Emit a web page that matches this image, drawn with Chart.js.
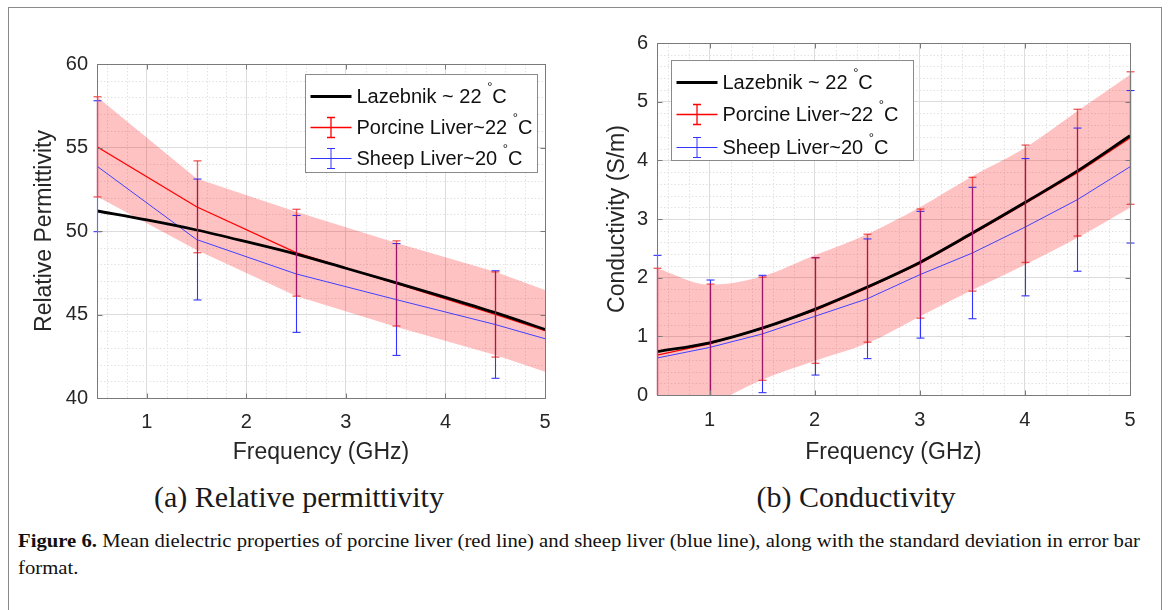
<!DOCTYPE html>
<html>
<head>
<meta charset="utf-8">
<script src="https://cdn.jsdelivr.net/npm/chart.js@4.4.1/dist/chart.umd.min.js"></script>
<style>
  html, body { margin: 0; padding: 0; background: #fff; }
  body { width: 1171px; height: 610px; position: relative; overflow: hidden; }
  #frame { position: absolute; left: 8px; top: 7px; width: 1154px; height: 640px;
           border: 1px solid #8a8a8a; box-sizing: border-box; }
  canvas { position: absolute; top: 0; }
  .sub { position: absolute; top: 479px; font-family: "Liberation Serif", serif; font-size: 30px;
         color: #1a1a1a; white-space: nowrap; transform: translateX(-50%); line-height: 36px; }
  .cap { position: absolute; left: 18px; font-family: "Liberation Serif", serif; font-size: 18px;
         color: #111; white-space: nowrap; transform-origin: 0 50%; line-height: 22px; }
</style>
</head>
<body>
<div id="frame"></div>
<canvas id="permChart" width="580" height="470" style="left:0"></canvas>
<canvas id="condChart" width="591" height="470" style="left:580px"></canvas>
<div class="sub" style="left:299px">(a) Relative permittivity</div>
<div class="sub" style="left:856px">(b) Conductivity</div>
<div class="cap" id="cap1" style="top:530px"><b>Figure 6.</b> Mean dielectric properties of porcine liver (red line) and sheep liver (blue line), along with the standard deviation in error bar</div>
<div class="cap" id="cap2" style="top:557px">format.</div>

<script>
// ---- data ----
const xTicks = [1, 2, 3, 4, 5];
const legendLabels = ['Lazebnik ~ 22 ', 'Porcine Liver~22 ', 'Sheep Liver~20 '];

// (a) relative permittivity
const permFreq = [0.5, 1.5, 2.5, 3.5, 4.5, 5];
const permLazFreq = [0.5, 1, 1.5, 2, 2.5, 3, 3.5, 4, 4.5, 5];
const permLazebnik = [51.2, 50.66, 50.06, 49.36, 48.62, 47.77, 46.91, 46.03, 45.11, 44.11];
const permPorcine = [55.04, 51.45, 48.7, 46.86, 45.0, 44.03];
const permPorcineSd = [3.0, 2.75, 2.6, 2.55, 2.55, null];
const permSheep = [53.88, 49.49, 47.43, 45.9, 44.4, 43.55];
const permSheepSd = [3.92, 3.62, 3.5, 3.35, 3.22, null];
const permBandHi = [58.04, 53.15, 51.16, 49.3, 47.56, 46.47];
const permBandLo = [52.06, 48.86, 46.11, 44.27, 42.57, 41.57];
const permYTicks = [40, 45, 50, 55, 60];

// (b) conductivity
const condFreq = [0.5, 1, 1.5, 2, 2.5, 3, 3.5, 4, 4.5, 5];
const condLazebnik = [0.74, 0.89, 1.14, 1.46, 1.84, 2.26, 2.76, 3.28, 3.82, 4.42];
const condPorcine = [0.68, 0.87, 1.13, 1.44, 1.82, 2.24, 2.74, 3.26, 3.79, 4.38];
const condPorcineSd = [1.48, 1.02, 0.88, 0.9, 0.92, 0.93, 0.97, 1.0, 1.08, 1.13];
const condSheep = [0.63, 0.81, 1.04, 1.34, 1.64, 2.05, 2.42, 2.86, 3.33, 3.89];
const condSheepSd = [1.75, 1.15, 1.0, 1.0, 1.02, 1.08, 1.12, 1.17, 1.22, 1.3];
const condBandHi = [2.16, 1.88, 2.02, 2.38, 2.74, 3.2, 3.73, 4.21, 4.84, 5.46];
const condBandLo = [-0.8, -0.2, 0.26, 0.58, 0.88, 1.34, 1.79, 2.22, 2.68, 3.19];
const condYTicks = [0, 1, 2, 3, 4, 5, 6];

const pts = (xs, ys) => xs.map((x, i) => ({ x, y: ys[i] }));
const FONT = 'Liberation Sans';
const TEXT = '#262626';

// minor grid, error bars, axes box with inward ticks, legend (MATLAB look)
const matlabPlugin = {
    id: 'matlab',
    beforeDatasetsDraw(chart, args, o) {
        const { ctx, chartArea: a, scales: { x, y } } = chart;
        ctx.save();
        ctx.strokeStyle = '#e2e2e2';
        ctx.lineWidth = 1;
        ctx.setLineDash([1.5, 2]);
        const minor = (scale, step, vertical) => {
            const n0 = Math.ceil(scale.min / step - 1e-9);
            const n1 = Math.floor(scale.max / step + 1e-9);
            for (let n = n0; n <= n1; n++) {
                const v = n * step;
                if (scale.ticks.some(t => Math.abs(t.value - v) < 1e-6)) continue;
                const p = Math.round(scale.getPixelForValue(v)) + 0.5;
                ctx.beginPath();
                if (vertical) { ctx.moveTo(p, a.top); ctx.lineTo(p, a.bottom); }
                else { ctx.moveTo(a.left, p); ctx.lineTo(a.right, p); }
                ctx.stroke();
            }
        };
        minor(x, o.minorX, true);
        minor(y, o.minorY, false);
        ctx.restore();
    },
    afterDatasetsDraw(chart, args, o) {
        const { ctx, chartArea: a, scales: { x, y } } = chart;
        ctx.save();
        // error bars
        for (const b of o.bars) {
            ctx.strokeStyle = b.color;
            ctx.lineWidth = b.width;
            b.x.forEach((fx, i) => {
                if (b.sd[i] == null) return;
                const px = Math.round(x.getPixelForValue(fx)) + 0.5;
                const lo = b.y[i] - b.sd[i], hi = b.y[i] + b.sd[i];
                const clampPx = v => y.getPixelForValue(Math.min(Math.max(v, y.min), y.max));
                ctx.beginPath();
                ctx.moveTo(px, clampPx(lo));
                ctx.lineTo(px, clampPx(hi));
                ctx.stroke();
                [lo, hi].forEach(v => {
                    if (v < y.min || v > y.max) return;
                    const py = y.getPixelForValue(v);
                    ctx.beginPath();
                    ctx.moveTo(px - 4, py);
                    ctx.lineTo(px + 4, py);
                    ctx.stroke();
                });
            });
        }
        // box + inward ticks
        ctx.strokeStyle = '#7a7a7a';
        ctx.lineWidth = 1;
        const L = Math.round(a.left) + 0.5, R = Math.round(a.right) + 0.5;
        const T = Math.round(a.top) + 0.5, B = Math.round(a.bottom) + 0.5;
        ctx.strokeRect(L, T, R - L, B - T);
        ctx.beginPath();
        x.ticks.forEach(t => {
            const p = Math.round(x.getPixelForValue(t.value)) + 0.5;
            ctx.moveTo(p, B); ctx.lineTo(p, B - 5);
            ctx.moveTo(p, T); ctx.lineTo(p, T + 5);
        });
        y.ticks.forEach(t => {
            const p = Math.round(y.getPixelForValue(t.value)) + 0.5;
            ctx.moveTo(L, p); ctx.lineTo(L + 5, p);
            ctx.moveTo(R, p); ctx.lineTo(R - 5, p);
        });
        ctx.stroke();
        ctx.restore();
    },
    afterDraw(chart, args, o) {
        const { ctx, chartArea: a } = chart;
        const g = o.legend;
        const bx = Math.round(a.left + g.dx) + 0.5, by = Math.round(a.top + g.dy) + 0.5;
        ctx.save();
        ctx.fillStyle = '#fff';
        ctx.fillRect(bx, by, g.w, g.h);
        ctx.strokeStyle = '#8a8a8a';
        ctx.lineWidth = 1;
        ctx.strokeRect(bx, by, g.w, g.h);
        const items = [
            { color: '#000', width: 2.8, bar: false },
            { color: '#ff0000', width: 1.3, bar: true },
            { color: '#3333ff', width: 1, bar: true },
        ];
        items.forEach((it, i) => {
            const cy = by + g.rows[i];
            ctx.strokeStyle = it.color;
            ctx.lineWidth = it.width;
            ctx.beginPath();
            ctx.moveTo(bx + 5, cy); ctx.lineTo(bx + 46, cy);
            if (it.bar) {
                const cx = bx + 25.5;
                ctx.moveTo(cx, cy - 10); ctx.lineTo(cx, cy + 10);
                ctx.moveTo(cx - 4, cy - 10); ctx.lineTo(cx + 4, cy - 10);
                ctx.moveTo(cx - 4, cy + 10); ctx.lineTo(cx + 4, cy + 10);
            }
            ctx.stroke();
            ctx.fillStyle = '#111';
            ctx.textBaseline = 'middle';
            ctx.font = `20px "${FONT}"`;
            let tx = bx + 51;
            ctx.fillText(legendLabels[i], tx, cy + 1);
            tx += ctx.measureText(legendLabels[i]).width;
            ctx.font = `13px "${FONT}"`;
            ctx.fillText('°', tx, cy - 9);
            tx += ctx.measureText('°').width;
            ctx.font = `20px "${FONT}"`;
            ctx.fillText('C', tx, cy + 1);
        });
        ctx.restore();
    }
};

function buildChart(canvasId, c) {
    const ctx = document.getElementById(canvasId).getContext('2d');
    const bandCurve = c.smoothBand ? 'monotone' : 'default';
    return new Chart(ctx, {
        type: 'line',
        data: {
            datasets: [
                { label: 'Lazebnik', data: pts(c.lazFreq, c.laz), borderColor: '#000', borderWidth: 2.8,
                  pointRadius: 0, cubicInterpolationMode: 'monotone', order: 1 },
                { label: 'Porcine', data: pts(c.freq, c.porcine), borderColor: '#ff0000', borderWidth: 1.3,
                  pointRadius: 0, tension: 0, order: 2 },
                { label: 'Sheep', data: pts(c.freq, c.sheep), borderColor: '#4040ff', borderWidth: 1,
                  pointRadius: 0, tension: 0, order: 3 },
                { label: 'bandHi', data: pts(c.freq, c.bandHi), borderWidth: 0, pointRadius: 0,
                  fill: false, cubicInterpolationMode: bandCurve, tension: 0, order: 4 },
                { label: 'bandLo', data: pts(c.freq, c.bandLo), borderWidth: 0, pointRadius: 0,
                  fill: '-1', backgroundColor: 'rgba(255, 0, 0, 0.24)', cubicInterpolationMode: bandCurve,
                  tension: 0, order: 5 },
            ]
        },
        options: {
            responsive: false,
            devicePixelRatio: 1,
            animation: false,
            events: [],
            layout: { padding: c.pad },
            scales: {
                x: {
                    type: 'linear', min: 0.5, max: 5,
                    afterBuildTicks: s => { s.ticks = xTicks.map(v => ({ value: v })); },
                    afterFit: s => { s.height = c.xH; },
                    grid: { color: '#dcdcdc', lineWidth: 1, drawTicks: false },
                    border: { display: false },
                    ticks: { font: { family: FONT, size: 20 }, color: TEXT, padding: c.xTickPad,
                             autoSkip: false, maxRotation: 0 },
                    title: { display: true, text: 'Frequency (GHz)', color: TEXT,
                             font: { family: FONT, size: 23 }, padding: { top: 0, bottom: 0 } }
                },
                y: {
                    type: 'linear', min: c.yTicks[0], max: c.yTicks[c.yTicks.length - 1],
                    afterBuildTicks: s => { s.ticks = c.yTicks.map(v => ({ value: v })); },
                    afterFit: s => { s.width = c.yW; },
                    grid: { color: '#dcdcdc', lineWidth: 1, drawTicks: false },
                    border: { display: false },
                    ticks: { font: { family: FONT, size: 20 }, color: TEXT, padding: 9, autoSkip: false },
                    title: { display: true, text: c.yTitle, color: TEXT,
                             font: { family: FONT, size: 23 }, padding: { top: c.yTitlePad, bottom: 0 } }
                }
            },
            plugins: {
                legend: { display: false },
                tooltip: { enabled: false },
                matlab: {
                    minorX: 0.2, minorY: c.minorY,
                    bars: [
                        { x: c.freq, y: c.sheep, sd: c.sheepSd, color: '#3333ff', width: 1.1 },
                        { x: c.freq, y: c.porcine, sd: c.porcineSd, color: 'rgba(230, 0, 0, 0.6)', width: 1.4 },
                    ],
                    legend: c.legend
                }
            }
        },
        plugins: [matlabPlugin]
    });
}

buildChart('permChart', {
    freq: permFreq, lazFreq: permLazFreq, laz: permLazebnik,
    porcine: permPorcine, porcineSd: permPorcineSd,
    sheep: permSheep, sheepSd: permSheepSd,
    bandHi: permBandHi, bandLo: permBandLo, smoothBand: false,
    yTicks: permYTicks, minorY: 1, yTitle: 'Relative Permittivity',
    pad: { left: 0, right: 35, top: 64, bottom: 4 },
    yW: 97, xH: 68, xTickPad: 12, yTitlePad: 31,
    legend: { dx: 208, dy: 10, w: 232, h: 98, rows: [22, 53, 84] }
});

buildChart('condChart', {
    freq: condFreq, lazFreq: condFreq, laz: condLazebnik,
    porcine: condPorcine, porcineSd: condPorcineSd,
    sheep: condSheep, sheepSd: condSheepSd,
    bandHi: condBandHi, bandLo: condBandLo, smoothBand: true,
    yTicks: condYTicks, minorY: 0.2, yTitle: 'Conductivity (S/m)',
    pad: { left: 0, right: 41, top: 43, bottom: 4 },
    yW: 77, xH: 71, xTickPad: 13, yTitlePad: 24,
    legend: { dx: 14, dy: 17, w: 242, h: 100, rows: [22, 54, 87] }
});

// fit caption width to the figure
const cap1 = document.getElementById('cap1');
const k = 1122 / cap1.getBoundingClientRect().width;
cap1.style.transform = `scaleX(${k})`;
document.getElementById('cap2').style.transform = `scaleX(${k})`;
</script>
</body>
</html>
